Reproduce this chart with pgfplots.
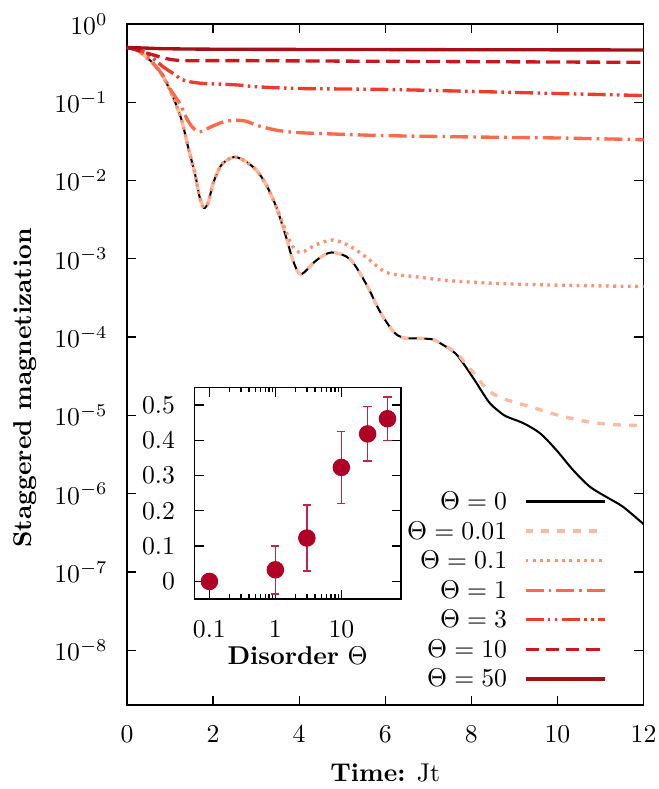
\documentclass[border=0pt]{standalone}
\usepackage{pgfplots}
\pgfplotsset{compat=1.18}
\definecolor{cA}{HTML}{FCBBA1}
\definecolor{cB}{HTML}{FC9272}
\definecolor{cC}{HTML}{FB6A4A}
\definecolor{cD}{HTML}{EF3B2C}
\definecolor{cE}{HTML}{CB181D}
\definecolor{cF}{HTML}{A50F15}
\definecolor{cM}{HTML}{B10026}
\begin{document}
\begin{tikzpicture}
\begin{axis}[
  name=main, at={(0,0)}, anchor=south west,
  scale only axis, width=201pt, height=265pt,
  xmin=0, xmax=12, ymode=log, ymin=2e-9, ymax=1,
  xtick={0,2,4,6,8,10,12},
  ytick={1,1e-1,1e-2,1e-3,1e-4,1e-5,1e-6,1e-7,1e-8},
  major tick length=3.6pt, minor tick length=2pt,
  tick style={black, line width=0.5pt},
  axis line style={line width=0.6pt},
  xticklabel style={yshift=-4.6pt},
  yticklabel style={xshift=-4pt},
  xlabel={\textbf{Time:} Jt},
  ylabel={\textbf{Staggered magnetization}},
  xlabel style={at={(axis description cs:0.5,-0.1)}, anchor=center},
  ylabel style={at={(axis description cs:-0.197,0.4655)}, anchor=center, rotate=0},
  legend plot pos=right, legend cell align=right,
  legend image code/.code={\draw[#1] (0pt,0pt) -- (31pt,0pt);},
  legend style={at={(axis description cs:0.930,0.021)}, anchor=south east,
    draw=none, fill=none, inner sep=0pt, row sep=2.7pt, column sep=6pt,
    nodes={inner sep=0.5pt, text height=7pt, text depth=0.8pt}},
]
\addplot[black, line width=0.8pt, smooth] coordinates {
(0,0.5) (0.15,0.484) (0.3,0.4416) (0.6,0.3162) (0.84,0.2113) (1.07,0.1169) (1.27,0.05888)
(1.42,0.02673) (1.58,0.01216) (1.69,0.006109) (1.79,0.004467) (1.89,0.005272) (2.0,0.009120)
(2.16,0.01479) (2.31,0.01803) (2.51,0.01995) (2.74,0.01778) (3.01,0.01349) (3.24,0.008710)
(3.47,0.004571) (3.70,0.001875) (3.86,0.000942) (4.04,0.000635) (4.40,0.000955)
(4.75,0.001205) (5.18,0.000991) (5.56,0.000473) (5.87,0.000215) (6.18,0.0001194) (6.41,0.0000980)
(6.80,0.0000962) (7.11,0.0000933) (7.26,0.0000845) (7.65,0.0000603) (8.04,0.0000302)
(8.40,0.0000150) (8.62,0.0000115) (8.81,9.70e-6) (9.20,7.98e-6) (9.59,5.94e-6) (9.97,3.63e-6) (10.36,2.01e-6)
(10.75,1.230e-6) (11.13,9.12e-7) (11.52,6.81e-7) (12.0,4.08e-7)};
\addlegendentry{$\Theta=0$}
\addplot[cA, line width=1.3pt, dash pattern=on 3pt off 3.2pt, smooth] coordinates {
(0,0.5) (0.15,0.484) (0.3,0.4416) (0.6,0.3162) (0.84,0.2113) (1.07,0.1169) (1.27,0.05888)
(1.42,0.02673) (1.58,0.01216) (1.69,0.006109) (1.79,0.004467) (1.89,0.005272) (2.0,0.009120)
(2.16,0.01479) (2.31,0.01803) (2.51,0.01995) (2.74,0.01778) (3.01,0.01349) (3.24,0.008710)
(3.47,0.004571) (3.70,0.001875) (3.86,0.000942) (4.04,0.000635) (4.40,0.000955)
(4.75,0.001205) (5.18,0.000991) (5.56,0.000473) (5.87,0.000215) (6.18,0.0001194) (6.41,0.0000980)
(6.80,0.0000962) (7.11,0.0000933) (7.26,0.0000845) (7.65,6.31e-5) (7.88,4.47e-5) (8.04,3.55e-5)
(8.27,2.45e-5) (8.43,2.00e-5) (8.66,1.70e-5) (8.81,1.585e-5) (9.20,1.371e-5) (9.59,1.183e-5)
(9.97,1.021e-5) (10.36,9.06e-6) (10.75,8.20e-6) (11.13,7.74e-6) (11.52,7.52e-6) (12.0,7.38e-6)};
\addlegendentry{$\Theta=0.01$}
\addplot[cB, line width=1.3pt, dash pattern=on 1.1pt off 1.75pt, smooth] coordinates {
(0,0.5) (0.15,0.484) (0.3,0.4416) (0.6,0.3162) (0.84,0.2113) (1.07,0.1169) (1.27,0.05888)
(1.42,0.02673) (1.58,0.01216) (1.69,0.006109) (1.79,0.004467) (1.89,0.005272) (2.0,0.009120)
(2.16,0.01479) (2.31,0.01803) (2.51,0.01995) (2.74,0.01778) (3.01,0.01349) (3.24,0.008710)
(3.47,0.004571) (3.70,0.002188) (3.86,0.001413) (4.05,0.001205) (4.40,0.001514)
(4.79,0.001738) (5.18,0.001445) (5.56,0.001047) (6.03,0.000668) (6.72,0.000589) (7.5,0.000525)
(8.66,0.000482) (10,0.000460) (12,0.000442)};
\addlegendentry{$\Theta=0.1$}
\addplot[cC, line width=1.3pt, dash pattern=on 7pt off 2pt on 1pt off 2pt, smooth] coordinates {
(0,0.5) (0.15,0.484) (0.3,0.4416) (0.6,0.3162) (0.84,0.2188) (1.0,0.1479) (1.23,0.0955)
(1.40,0.06026) (1.52,0.04786) (1.64,0.04217) (1.76,0.04266) (1.93,0.04786) (2.24,0.05598) (2.51,0.05875)
(2.78,0.05702) (3.01,0.05070) (3.5,0.04365) (4.0,0.04083) (5,0.03890) (6,0.03741)
(8,0.03597) (10,0.03491) (12,0.03319)};
\addlegendentry{$\Theta=1$}
\addplot[cD, line width=1.3pt, dash pattern=on 7pt off 1.7pt on 1pt off 1.7pt on 1pt off 1.7pt, smooth] coordinates {
(0,0.5) (0.2,0.4786) (0.46,0.4207) (0.84,0.2838) (1.07,0.2333) (1.27,0.1954) (1.46,0.1824)
(1.77,0.1734) (2.16,0.1702) (2.62,0.1652) (3.01,0.1574) (4,0.1496) (6,0.1455) (8,0.1374)
(10,0.1291) (12,0.1216)};
\addlegendentry{$\Theta=3$}
\addplot[cE, line width=1.3pt, dash pattern=on 5.4pt off 2.4pt, smooth] coordinates {
(0,0.5) (0.22,0.4645) (0.61,0.4009) (1.0,0.3524) (1.39,0.3388) (2.16,0.3400) (3,0.3390)
(6,0.3327) (12,0.3228)};
\addlegendentry{$\Theta=10$}
\addplot[cF, line width=1.3pt, smooth] coordinates {
(0,0.5) (0.5,0.4898) (1,0.4808) (3,0.4732) (12,0.4645)};
\addlegendentry{$\Theta=50$}
\end{axis}
\begin{axis}[
  at={(26.2pt,41.2pt)}, anchor=south west,
  scale only axis, width=80.4pt, height=82.4pt,
  axis background/.style={fill=white},
  xmode=log, xmin=0.059, xmax=80, ymin=-0.05, ymax=0.55,
  xtick={0.1,1,10}, xticklabels={0.1,1,10},
  ytick={0,0.1,0.2,0.3,0.4,0.5},
  yticklabels={0,0.1,0.2,0.3,0.4,0.5},
  major tick length=3.6pt, minor tick length=2pt,
  tick style={black, line width=0.5pt},
  axis line style={line width=0.6pt},
  xticklabel style={yshift=-4.6pt},
  yticklabel style={xshift=-4pt},
  xlabel={\textbf{Disorder} $\Theta$},
  xlabel style={at={(axis description cs:0.5,-0.265)}, anchor=center},
]
\addplot[only marks, mark=*, mark size=3.2pt, color=cM,
  error bars/.cd, y dir=both, y explicit, error mark=-,
  error bar style={line width=0.6pt, color=cM!85},
  error mark options={rotate=90, mark size=1.6pt, line width=0.6pt, color=cM!85}]
  coordinates {
  (0.1,0.0) +- (0,0)
  (1,0.033) +- (0,0.068)
  (3,0.123) +- (0,0.094)
  (10,0.323) +- (0,0.102)
  (25,0.418) +- (0,0.077)
  (50,0.461) +- (0,0.062)};
\end{axis}
\pgfresetboundingbox
\path[use as bounding box] (-49.4pt,-32.7pt) rectangle (206.8pt,274.3pt);
\end{tikzpicture}
\end{document}
